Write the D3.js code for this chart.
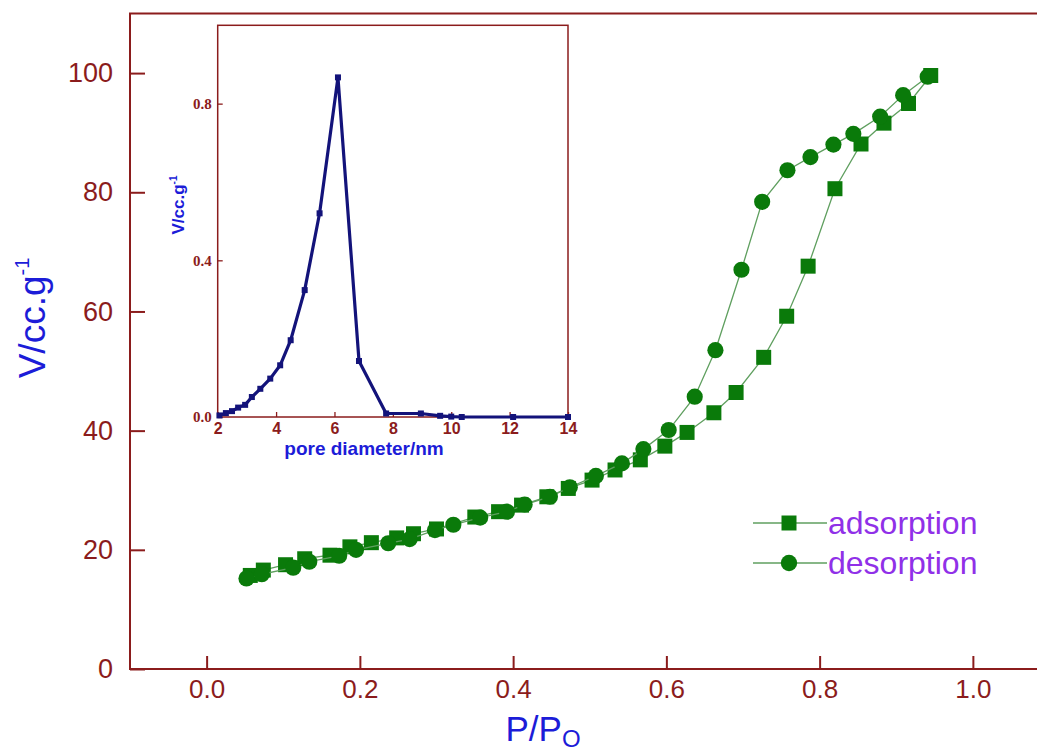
<!DOCTYPE html>
<html>
<head>
<meta charset="utf-8">
<script src="https://cdn.jsdelivr.net/npm/d3@7"></script>
<style>
  body { margin: 0; background: #fff; }
  svg { display: block; }
</style>
</head>
<body>
<svg id="chart" width="1037" height="754"></svg>
<script>
// main isotherm: relative pressure vs adsorbed volume
const adsP = [0.057, 0.074, 0.103, 0.128, 0.161, 0.187, 0.215, 0.248, 0.27, 0.3, 0.35, 0.381, 0.411, 0.444, 0.472, 0.503, 0.533, 0.566, 0.598, 0.627, 0.662, 0.691, 0.727, 0.757, 0.785, 0.82, 0.854, 0.884, 0.916, 0.945]
const adsV = [15.7, 16.6, 17.5, 18.5, 19.1, 20.5, 21.2, 22.0, 22.7, 23.5, 25.5, 26.4, 27.5, 28.9, 30.3, 31.7, 33.4, 35.1, 37.4, 39.7, 43.0, 46.4, 52.3, 59.2, 67.6, 80.6, 88.1, 91.6, 94.9, 99.6]

const desP = [0.052, 0.072, 0.113, 0.134, 0.173, 0.195, 0.237, 0.265, 0.298, 0.322, 0.357, 0.392, 0.415, 0.448, 0.474, 0.508, 0.542, 0.57, 0.603, 0.637, 0.664, 0.698, 0.725, 0.758, 0.788, 0.818, 0.844, 0.879, 0.909, 0.941]
const desV = [15.2, 15.9, 17.0, 18.0, 19.0, 20.0, 21.1, 21.8, 23.3, 24.2, 25.4, 26.4, 27.6, 28.9, 30.5, 32.4, 34.5, 36.9, 40.1, 45.7, 53.5, 67.0, 78.4, 83.7, 85.9, 88.0, 89.8, 92.7, 96.3, 99.4]

// inset: pore size distribution
const poreD = [2.06, 2.28, 2.49, 2.7, 2.94, 3.17, 3.46, 3.8, 4.14, 4.5, 4.98, 5.49, 6.12, 6.84, 7.77, 8.96, 9.62, 10.0, 10.36, 12.12, 14.0]
const poreV = [0.004, 0.01, 0.015, 0.024, 0.031, 0.051, 0.072, 0.098, 0.132, 0.196, 0.324, 0.52, 0.867, 0.143, 0.009, 0.009, 0.003, 0.001, 0, 0, 0]

const mainXTicks = [0, 0.2, 0.4, 0.6, 0.8, 1.0]
const mainYTicks = [0, 20, 40, 60, 80, 100]
const insetXTicks = [2, 4, 6, 8, 10, 12, 14]
const insetYTicks = [0, 0.4, 0.8]

const seriesNames = ["adsorption", "desorption"]

const frameColor = "#8b1c1c"
const green = "#0a7a0a"
const lineGreen = "#5f9f5f"
const titleBlue = "#1c1cd8"
const navy = "#13137a"

const svg = d3.select("#chart")

const x = d3.scaleLinear().domain([-0.1, 1.1]).range([130, 1049.5])
const y = d3.scaleLinear().domain([0, 110]).range([669, 13.5])

// frame
svg.append("rect")
    .attr("x", x(-0.1)).attr("y", y(110))
    .attr("width", x(1.1) - x(-0.1)).attr("height", y(0) - y(110))
    .attr("fill", "none")
    .attr("stroke", frameColor)
    .attr("stroke-width", 2)

const styleAxis = (g, size) => {
    g.select(".domain").remove()
    g.selectAll(".tick line").attr("stroke", frameColor).attr("stroke-width", 2)
    g.selectAll(".tick text")
        .attr("fill", frameColor)
        .style("font-family", "'Liberation Sans', Arial, sans-serif")
        .style("font-size", size + "px")
}

svg.append("g")
    .attr("transform", `translate(0,${y(0)})`)
    .call(d3.axisBottom(x).tickValues(mainXTicks).tickFormat(d3.format(".1f"))
        .tickSizeInner(-13).tickSizeOuter(0).tickPadding(11))
    .call(g => styleAxis(g, 26))

svg.append("g")
    .attr("transform", `translate(${x(-0.1)},0)`)
    .call(d3.axisLeft(y).tickValues(mainYTicks)
        .tickSizeInner(-15).tickSizeOuter(0).tickPadding(17))
    .call(g => styleAxis(g, 27))

// axis titles
const xt = svg.append("text")
    .attr("x", 543).attr("y", 741)
    .attr("text-anchor", "middle")
    .attr("fill", titleBlue)
    .style("font-family", "'Liberation Sans', Arial, sans-serif")
    .style("font-size", "35px")
xt.append("tspan").text("P/P")
xt.append("tspan").text("O").attr("dy", 6).style("font-size", "24px")

const yt = svg.append("text")
    .attr("transform", "translate(45,318) rotate(-90)")
    .attr("text-anchor", "middle")
    .attr("fill", titleBlue)
    .style("font-family", "'Liberation Sans', Arial, sans-serif")
    .style("font-size", "37px")
yt.append("tspan").text("V/cc.g")
yt.append("tspan").text("-1").attr("dy", -16).style("font-size", "20px")

// isotherm curves
const ads = adsP.map((p, i) => ({ p: p, v: adsV[i] }))
const des = desP.map((p, i) => ({ p: p, v: desV[i] }))

const line = d3.line().x(d => x(d.p)).y(d => y(d.v))

const drawSeries = (data, shape) => {
    svg.append("path")
        .datum(data)
        .attr("fill", "none")
        .attr("stroke", lineGreen)
        .attr("stroke-width", 1.3)
        .attr("d", line)

    svg.append("g").selectAll("path")
        .data(data)
        .enter()
        .append("path")
        .attr("transform", d => `translate(${x(d.p)},${y(d.v)})`)
        .attr("d", d3.symbol().type(shape).size(shape === d3.symbolSquare ? 225 : 205))
        .attr("fill", green)
}

drawSeries(ads, d3.symbolSquare)
drawSeries(des, d3.symbolCircle)

// legend
const legend = svg.append("g")
seriesNames.forEach((name, i) => {
    const ly = 523 + i * 40
    legend.append("line")
        .attr("x1", 753).attr("x2", 827)
        .attr("y1", ly).attr("y2", ly)
        .attr("stroke", lineGreen).attr("stroke-width", 1.3)
    legend.append("path")
        .attr("transform", `translate(789,${ly})`)
        .attr("d", d3.symbol().type(i === 0 ? d3.symbolSquare : d3.symbolCircle).size(i === 0 ? 225 : 210))
        .attr("fill", green)
    legend.append("text")
        .attr("x", 828).attr("y", ly + 11)
        .attr("fill", "#9030e8")
        .style("font-family", "'Liberation Sans', Arial, sans-serif")
        .style("font-size", "32px")
        .text(name)
})

// inset
const xi = d3.scaleLinear().domain([2, 14]).range([217.7, 568])
const yi = d3.scaleLinear().domain([0, 1]).range([417, 25.3])

svg.append("rect")
    .attr("x", xi(2)).attr("y", yi(1))
    .attr("width", xi(14) - xi(2)).attr("height", yi(0) - yi(1))
    .attr("fill", "#fff")
    .attr("stroke", frameColor)
    .attr("stroke-width", 1.5)

svg.append("g")
    .attr("transform", `translate(0,${yi(0)})`)
    .call(d3.axisBottom(xi).tickValues(insetXTicks)
        .tickSizeInner(-5).tickSizeOuter(0).tickPadding(6))
    .call(g => {
        styleAxis(g, 16)
        g.selectAll(".tick line").attr("stroke-width", 1.3)
        g.selectAll(".tick text").style("font-weight", "bold")
    })

svg.append("g")
    .attr("transform", `translate(${xi(2)},0)`)
    .call(d3.axisLeft(yi).tickValues(insetYTicks).tickFormat(d3.format(".1f"))
        .tickSizeInner(-5).tickSizeOuter(0).tickPadding(6))
    .call(g => {
        styleAxis(g, 15)
        g.selectAll(".tick line").attr("stroke-width", 1.3)
        g.selectAll(".tick text")
            .style("font-weight", "bold")
            .style("font-family", "'Liberation Serif', 'Times New Roman', serif")
    })

svg.append("text")
    .attr("x", 364).attr("y", 455)
    .attr("text-anchor", "middle")
    .attr("fill", titleBlue)
    .style("font-family", "'Liberation Sans', Arial, sans-serif")
    .style("font-size", "19px")
    .style("font-weight", "bold")
    .text("pore diameter/nm")

const iyt = svg.append("text")
    .attr("transform", "translate(184,205) rotate(-90)")
    .attr("text-anchor", "middle")
    .attr("fill", titleBlue)
    .style("font-family", "'Liberation Sans', Arial, sans-serif")
    .style("font-size", "17px")
    .style("font-weight", "bold")
iyt.append("tspan").text("V/cc.g")
iyt.append("tspan").text("-1").attr("dy", -7).style("font-size", "10px")

const pores = poreD.map((d, i) => ({ d: d, v: poreV[i] }))

svg.append("path")
    .datum(pores)
    .attr("fill", "none")
    .attr("stroke", navy)
    .attr("stroke-width", 3.2)
    .attr("stroke-linejoin", "round")
    .attr("d", d3.line().x(d => xi(d.d)).y(d => yi(d.v)))

svg.append("g").selectAll("rect")
    .data(pores)
    .enter()
    .append("rect")
    .attr("x", d => xi(d.d) - 3)
    .attr("y", d => yi(d.v) - 3)
    .attr("width", 6).attr("height", 6)
    .attr("fill", navy)
</script>
</body>
</html>
